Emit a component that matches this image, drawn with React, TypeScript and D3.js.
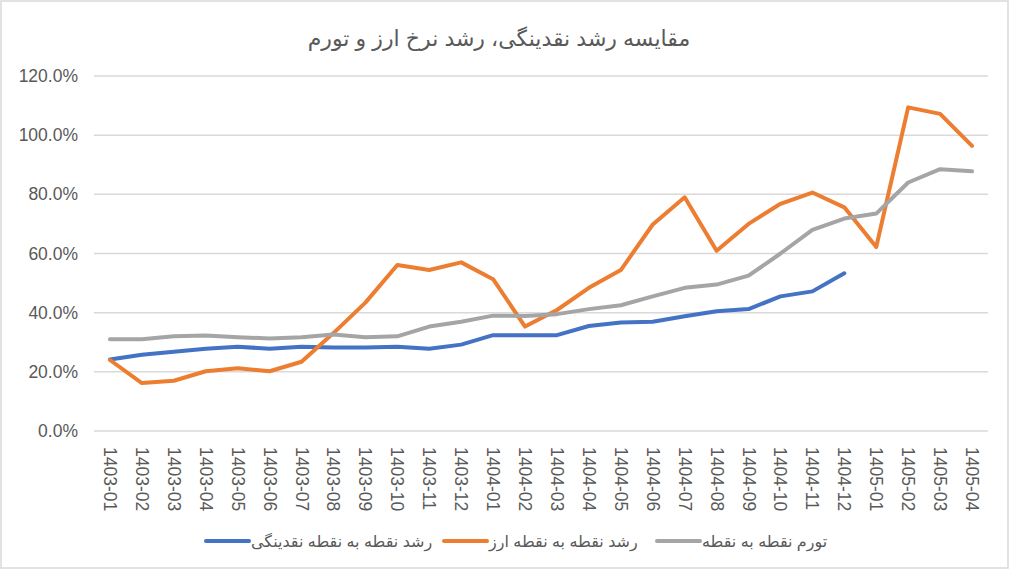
import React, { useEffect, useRef } from 'react';
import * as d3 from 'd3';

const months = [
  '1403-01', '1403-02', '1403-03', '1403-04', '1403-05', '1403-06', '1403-07',
  '1403-08', '1403-09', '1403-10', '1403-11', '1403-12', '1404-01', '1404-02',
  '1404-03', '1404-04', '1404-05', '1404-06', '1404-07', '1404-08', '1404-09',
  '1404-10', '1404-11', '1404-12', '1405-01', '1405-02', '1405-03', '1405-04',
];

// رشد نقطه به نقطه نقدینگی (ends at 1404-12)
const liquidityGrowth = [
  24.2, 25.8, 26.8, 27.8, 28.5, 27.8, 28.5, 28.2, 28.2, 28.5, 27.8, 29.2,
  32.4, 32.4, 32.4, 35.5, 36.7, 36.9, 38.8, 40.5, 41.2, 45.5, 47.2, 53.3,
];

// رشد نقطه به نقطه ارز
const fxGrowth = [
  24.0, 16.2, 17.0, 20.2, 21.2, 20.2, 23.4, 33.1, 43.4, 56.1, 54.4, 57.0,
  51.3, 35.3, 40.9, 48.4, 54.4, 69.8, 79.0, 60.9, 70.0, 76.8, 80.6, 75.6,
  62.2, 109.4, 107.2, 96.4,
];

// تورم نقطه به نقطه
const inflation = [
  31.0, 31.0, 32.0, 32.3, 31.7, 31.3, 31.7, 32.6, 31.7, 32.0, 35.3, 36.9,
  39.0, 38.9, 39.5, 41.2, 42.5, 45.5, 48.4, 49.5, 52.5, 60.0, 68.0, 71.8,
  73.5, 84.0, 88.5, 87.8,
];

const yTicks = [0, 20, 40, 60, 80, 100, 120];

const series = [
  { name: 'رشد نقطه به نقطه نقدینگی', values: liquidityGrowth, color: '#4472C4' },
  { name: 'رشد نقطه به نقطه ارز', values: fxGrowth, color: '#ED7D31' },
  { name: 'تورم نقطه به نقطه', values: inflation, color: '#A5A5A5' },
];

const FONT = "'Liberation Sans', Arial, 'DejaVu Sans', sans-serif";

const GrowthChart: React.FC = () => {
  const chartRef = useRef<SVGSVGElement | null>(null);

  useEffect(() => {
    renderChart();
  }, []);

  const renderChart = () => {
    const width = 1013;
    const height = 571;
    const plot = { left: 94, right: 988, top: 76, bottom: 431 };

    d3.select(chartRef.current).selectAll('*').remove();

    const svg = d3.select(chartRef.current)
      .attr('width', width)
      .attr('height', height)
      .style('font-family', FONT);

    svg.append('rect')
      .attr('width', width)
      .attr('height', height)
      .attr('fill', '#fff');

    // chart border
    svg.append('rect')
      .attr('x', 1)
      .attr('y', 1)
      .attr('width', 1007)
      .attr('height', 567)
      .attr('fill', 'none')
      .attr('stroke', '#D9D9D9')
      .attr('stroke-width', 1.5);

    const x = d3.scaleBand<string>()
      .domain(months)
      .range([plot.left, plot.right]);

    const y = d3.scaleLinear()
      .domain([0, 120])
      .range([plot.bottom, plot.top]);

    // gridlines
    svg.append('g')
      .selectAll('line')
      .data(yTicks)
      .enter().append('line')
      .attr('x1', plot.left)
      .attr('x2', plot.right)
      .attr('y1', d => y(d))
      .attr('y2', d => y(d))
      .attr('stroke', '#D9D9D9')
      .attr('stroke-width', 1.5);

    // y labels
    svg.append('g')
      .selectAll('text')
      .data(yTicks)
      .enter().append('text')
      .attr('x', 78)
      .attr('y', d => y(d))
      .attr('dy', '0.35em')
      .attr('text-anchor', 'end')
      .attr('fill', '#595959')
      .style('font-size', '17.5px')
      .text(d => `${d.toFixed(1)}%`);

    // x labels, rotated to read top to bottom
    svg.append('g')
      .selectAll('text')
      .data(months)
      .enter().append('text')
      .attr('transform', d => `translate(${x(d)! + x.bandwidth() / 2},447) rotate(90)`)
      .attr('dominant-baseline', 'central')
      .attr('text-anchor', 'start')
      .attr('fill', '#595959')
      .style('font-size', '17.5px')
      .text(d => d);

    const line = d3.line<number>()
      .x((_, i) => x(months[i])! + x.bandwidth() / 2)
      .y(d => y(d));

    series.forEach(s => {
      svg.append('path')
        .datum(s.values)
        .attr('d', line)
        .attr('fill', 'none')
        .attr('stroke', s.color)
        .attr('stroke-width', 4)
        .attr('stroke-linejoin', 'round')
        .attr('stroke-linecap', 'round');
    });

    // title
    svg.append('text')
      .attr('x', 499)
      .attr('y', 38)
      .attr('dy', '0.35em')
      .attr('text-anchor', 'middle')
      .attr('direction', 'rtl')
      .attr('fill', '#595959')
      .style('font-size', '22px')
      .text('مقایسه رشد نقدینگی، رشد نرخ ارز و تورم');

    // legend (left to right: blue, orange, gray)
    const legendX = [206, 444, 657];
    const legendY = 541;
    series.forEach((s, i) => {
      const lx = legendX[i];
      svg.append('line')
        .attr('x1', lx)
        .attr('x2', lx + 43)
        .attr('y1', legendY)
        .attr('y2', legendY)
        .attr('stroke', s.color)
        .attr('stroke-width', 4)
        .attr('stroke-linecap', 'round');
      svg.append('text')
        .attr('x', lx + 45)
        .attr('y', legendY)
        .attr('dy', '0.35em')
        .attr('text-anchor', 'end')
        .attr('direction', 'rtl')
        .attr('fill', '#595959')
        .style('font-size', '16px')
        .text(s.name);
    });
  };

  return (
    <svg ref={chartRef} style={{ position: 'absolute', left: 0, top: 0 }}></svg>
  );
};

export default function App() {
  return <GrowthChart />;
}
